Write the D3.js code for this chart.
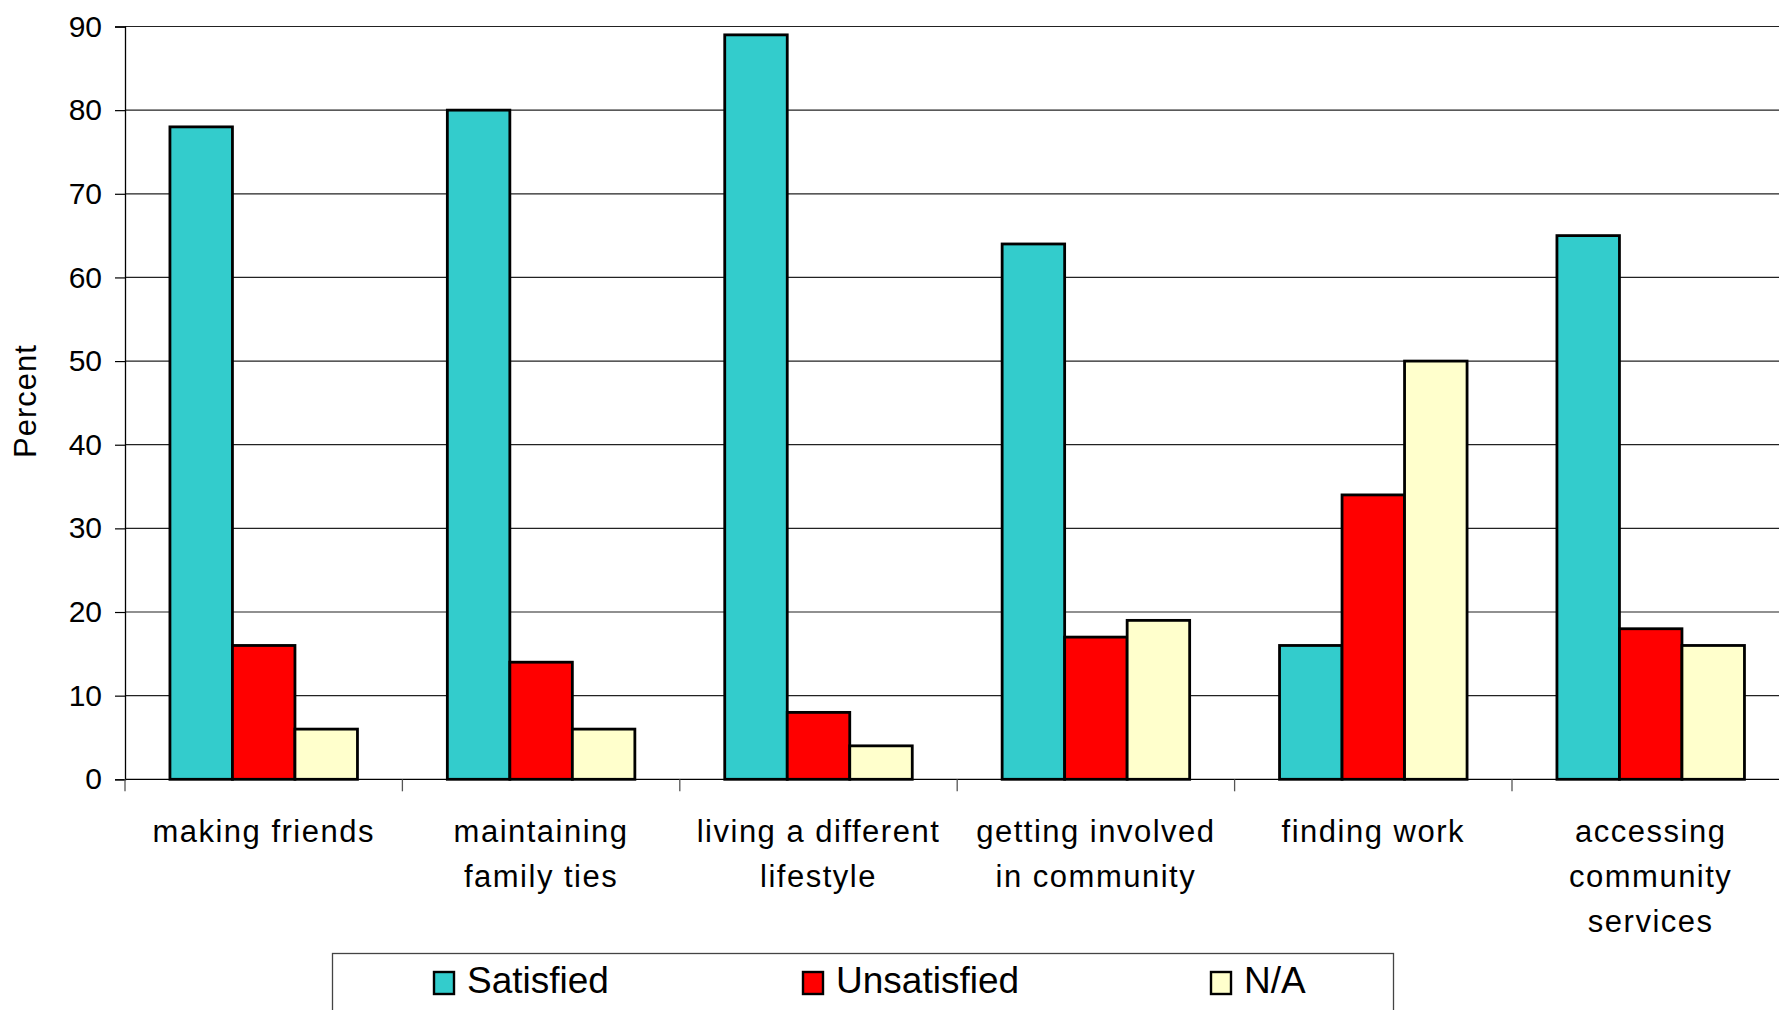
<!DOCTYPE html>
<html><head><meta charset="utf-8">
<script src="https://cdn.jsdelivr.net/npm/d3@7"></script>
<style>
html,body{margin:0;padding:0;background:#fff;overflow:hidden}
text{font-family:"Liberation Sans",Arial,sans-serif;fill:#000}
</style></head>
<body>
<svg id="chart" width="1779" height="1010"></svg>
<script>
const categories = ["making friends", "maintaining\nfamily ties", "living a different\nlifestyle", "getting involved\nin community", "finding work", "accessing\ncommunity\nservices"];
const seriesNames = ["Satisfied", "Unsatisfied", "N/A"];
const satisfied = [78, 80, 89, 64, 16, 65];
const unsatisfied = [16, 14, 8, 17, 34, 18];
const notApplicable = [6, 6, 4, 19, 50, 16];
const yTicks = [0, 10, 20, 30, 40, 50, 60, 70, 80, 90];
const colors = ["#33CCCC", "#FF0000", "#FFFFCC"];

(function () {
const seriesValues = [satisfied, unsatisfied, notApplicable];
const svg = d3.select("#chart");
const pLeft = 125, pTop = 26.5, pBottom = 779.3, band = 277.4;
const pRight = pLeft + band * categories.length;

const x0 = d3.scaleBand().domain(categories).range([pLeft, pRight]).padding(0);
const x1 = d3.scaleBand().domain(seriesNames).range([band * 0.162, band * 0.838]).padding(0);
const y = d3.scaleLinear().domain([0, 90]).range([pBottom, pTop]);

// gridlines
svg.append("g").selectAll("line").data(yTicks.filter(d => d > 0)).join("line")
  .attr("x1", pLeft).attr("x2", pRight)
  .attr("y1", d => y(d)).attr("y2", d => y(d))
  .attr("stroke", "#222").attr("stroke-width", 1.2);

// y axis
const yAxis = d3.axisLeft(y).tickValues(yTicks).tickSize(10).tickPadding(13).tickFormat(d3.format("d"));
const gy = svg.append("g").attr("transform", `translate(${pLeft},0)`).call(yAxis);
gy.select(".domain").attr("stroke", "#000").attr("stroke-width", 1.3);
gy.selectAll(".tick line").attr("stroke", "#000").attr("stroke-width", 1.2);
gy.selectAll(".tick text").attr("font-size", 30).attr("font-family", '"Liberation Sans",Arial,sans-serif').attr("fill", "#000");

// bars
const groups = svg.append("g").selectAll("g").data(categories).join("g")
  .attr("transform", d => `translate(${x0(d)},0)`);
groups.selectAll("rect").data((d, i) => seriesNames.map((s, j) => ({s, v: seriesValues[j][i], c: colors[j]}))).join("rect")
  .attr("x", d => x1(d.s)).attr("width", x1.bandwidth())
  .attr("y", d => y(d.v)).attr("height", d => y(0) - y(d.v))
  .attr("fill", d => d.c).attr("stroke", "#000").attr("stroke-width", 2.8);

// x axis
const gx = svg.append("g").attr("transform", `translate(0,${pBottom})`);
gx.append("line").attr("x1", pLeft).attr("x2", pRight).attr("stroke", "#000").attr("stroke-width", 1.3);
gx.selectAll("line.tk").data(d3.range(categories.length + 1)).join("line").attr("class", "tk")
  .attr("x1", i => pLeft + i * x0.step()).attr("x2", i => pLeft + i * x0.step())
  .attr("y1", 0).attr("y2", 12).attr("stroke", "#555").attr("stroke-width", 1.3);

// category labels
const lab = svg.append("g").selectAll("text").data(categories).join("text")
  .attr("x", d => x0(d) + x0.bandwidth() / 2).attr("y", 842)
  .attr("text-anchor", "middle").attr("font-size", 31).attr("letter-spacing", 1.5);
lab.selectAll("tspan").data(d => d.split("\n")).join("tspan")
  .attr("x", function() { return this.parentNode.getAttribute("x"); })
  .attr("dy", (d, i) => i === 0 ? 0 : 45).text(d => d);

// y label
svg.append("text").attr("transform", "translate(36,401) rotate(-90)")
  .attr("text-anchor", "middle").attr("font-size", 31).attr("letter-spacing", 1).text("Percent");

// legend
svg.append("rect").attr("x", 332.5).attr("y", 953.5).attr("width", 1061).attr("height", 80)
  .attr("fill", "#fff").attr("stroke", "#444").attr("stroke-width", 1.3);
const legX = [434, 803, 1211];
const leg = svg.append("g").selectAll("g").data(seriesNames).join("g")
  .attr("transform", (d, i) => `translate(${legX[i]},0)`);
leg.append("rect").attr("x", 0).attr("y", 972).attr("width", 20).attr("height", 22)
  .attr("fill", (d, i) => colors[i]).attr("stroke", "#000").attr("stroke-width", 2.4);
leg.append("text").attr("x", 33).attr("y", 993).attr("font-size", 37).text(d => d);
})();
</script>
</body></html>
